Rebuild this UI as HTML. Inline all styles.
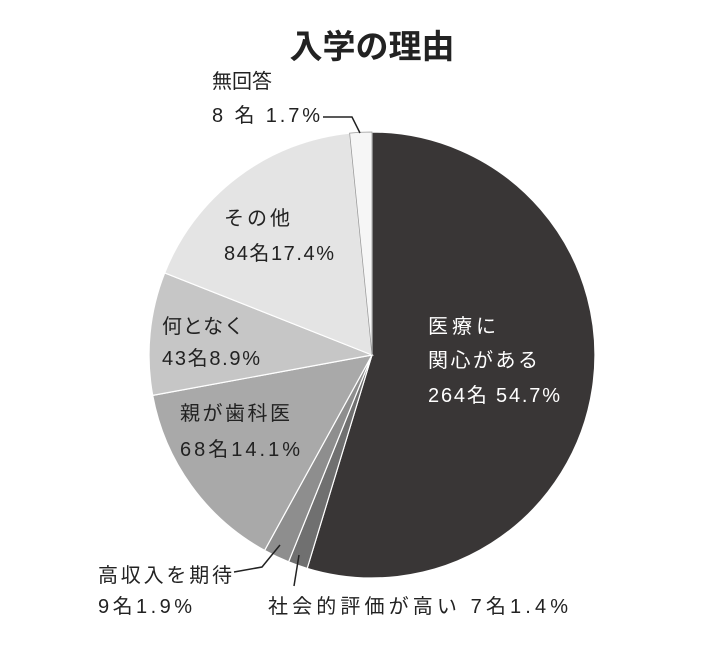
<!DOCTYPE html>
<html><head><meta charset="utf-8"><style>
body{margin:0;background:#fff;width:725px;height:640px;overflow:hidden}
svg text{font-family:"Liberation Sans","Noto Sans CJK JP",sans-serif}
</style></head><body>
<svg width="725" height="640" viewBox="0 0 725 640">
<text x="372" y="58" font-size="33" font-weight="bold" text-anchor="middle" fill="#222">入学の理由</text>
<g stroke="#fff" stroke-width="1.2">
<path d="M372,355 L372,132 A223,223 0 1 1 307.2,568.4 Z" fill="#393636"/>
<path d="M372,355 L307.2,568.4 A223,223 0 0 1 288.6,561.8 Z" fill="#707070"/>
<path d="M372,355 L288.6,561.8 A223,223 0 0 1 264.6,550.4 Z" fill="#8e8e8e"/>
<path d="M372,355 L264.6,550.4 A223,223 0 0 1 152.7,395.4 Z" fill="#a9a9a9"/>
<path d="M372,355 L152.7,395.4 A223,223 0 0 1 164.7,272.9 Z" fill="#c6c6c6"/>
<path d="M372,355 L164.7,272.9 A223,223 0 0 1 349.6,133.1 Z" fill="#e4e4e4"/>
<path d="M372,355 L349.6,133.1 A223,223 0 0 1 372,132 Z" fill="#f6f6f6" stroke="#999" stroke-width="0.8"/>
</g>
<g fill="#222" font-size="20" lengthAdjust="spacing">
<text x="212" y="88" textLength="60">無回答</text>
<text x="212" y="122" textLength="108">8 名  1.7%</text>
<text x="224" y="225" textLength="66">その他</text>
<text x="224" y="260" textLength="110">84名17.4%</text>
<text x="162" y="333" textLength="82">何となく</text>
<text x="162" y="365" textLength="98">43名8.9%</text>
<text x="180" y="420" textLength="110">親が歯科医</text>
<text x="180" y="456" textLength="120">68名14.1%</text>
<text x="98" y="582" textLength="134">高収入を期待</text>
<text x="98" y="613" textLength="94">9名1.9%</text>
<text x="268" y="613" textLength="300">社会的評価が高い  7名1.4%</text>
</g>
<g fill="#fff" font-size="20">
<text x="428" y="333" textLength="68">医療に</text>
<text x="428" y="367" textLength="110">関心がある</text>
<text x="428" y="402" textLength="132">264名 54.7%</text>
</g>
<g stroke="#222" stroke-width="1.5" fill="none">
<polyline points="323,117 352,117 360,133"/>
<polyline points="234,572 262,567 280,545"/>
<line x1="294" y1="586" x2="299" y2="555"/>
</g>
</svg>
</body></html>
